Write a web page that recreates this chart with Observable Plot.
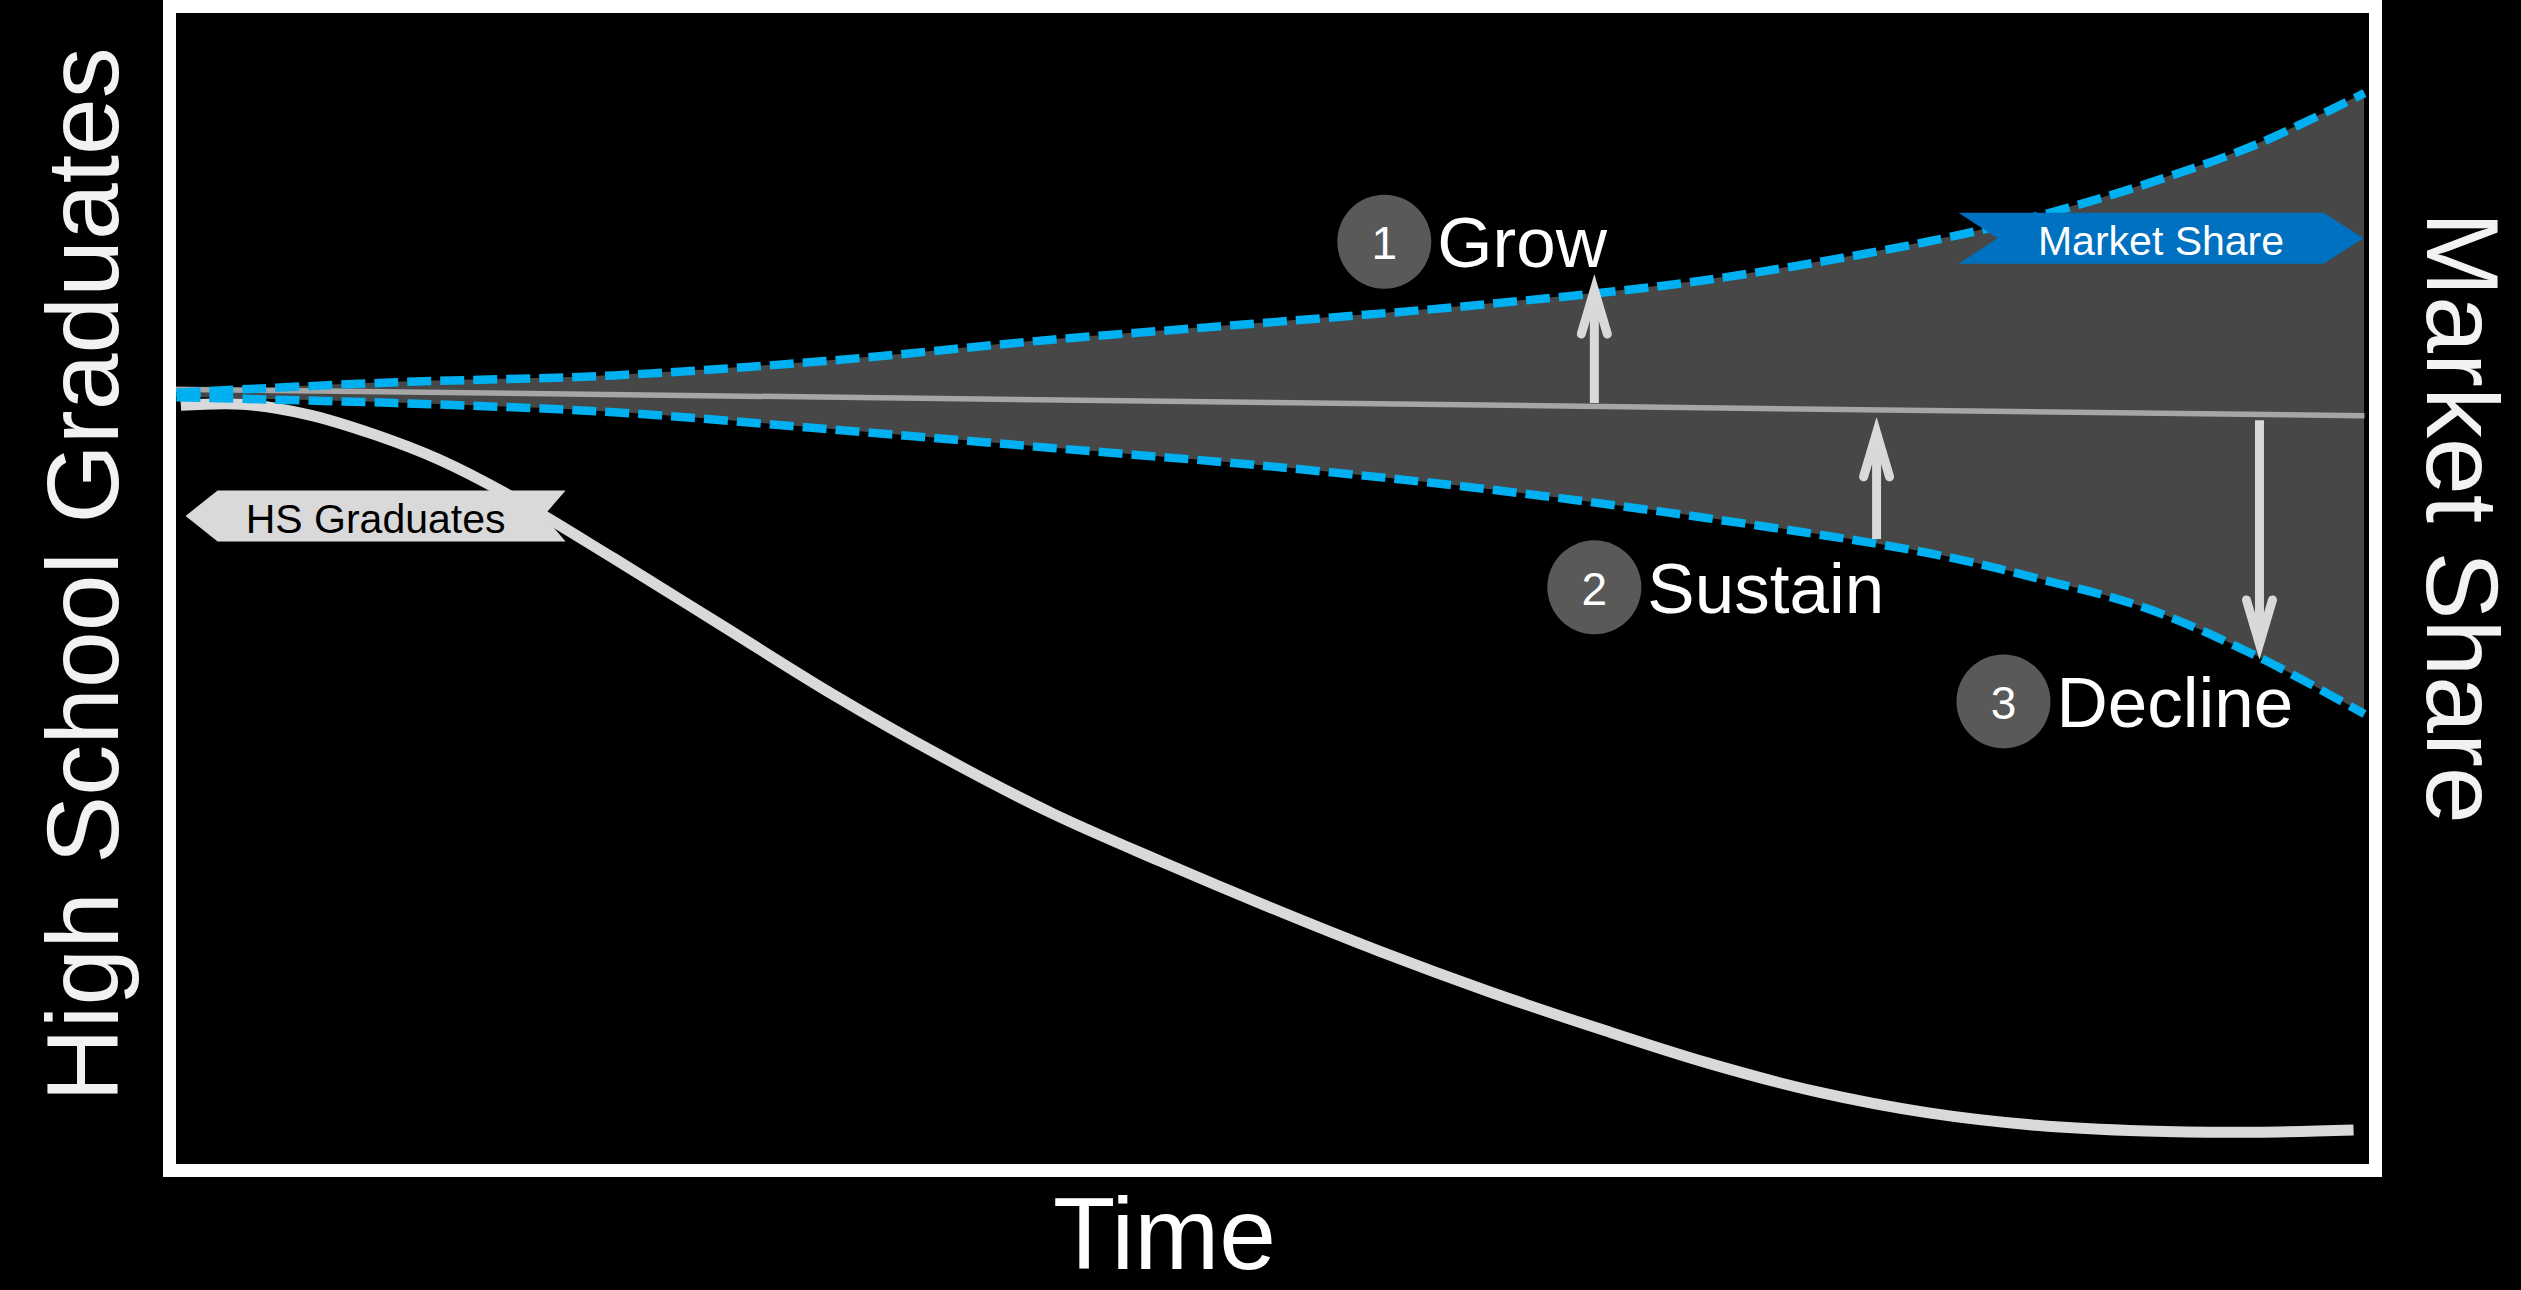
<!DOCTYPE html>
<html>
<head>
<meta charset="utf-8">
<script src="https://cdn.jsdelivr.net/npm/d3@7"></script>
<script src="https://cdn.jsdelivr.net/npm/@observablehq/plot@0.6"></script>
<style>
  html, body { margin: 0; padding: 0; background: #000; overflow: hidden; }
</style>
</head>
<body>
<div id="chart"></div>
<script>
// ---------------- data ----------------
// market-share envelope (time index 0..100, share index 0..100)
const timeGrid   = [0, 10, 20, 30, 40, 50, 60, 70, 80, 85, 90, 95, 100];
const shareUpper = [67.0, 67.9, 68.5, 69.8, 71.6, 73.1, 74.7, 76.8, 80.1, 82.3, 85.1, 88.5, 93.0];
const shareLower = [66.6, 66.1, 65.3, 63.8, 62.2, 60.6, 58.6, 56.1, 53.1, 50.9, 48.3, 44.2, 39.1];

// current market share (straight reference line)
const baselineTime  = [-0.4, 100];
const baselineShare = [67.3, 65.0];

// high school graduates
const gradTime  = [0.2, 3, 6, 9, 12, 15, 20, 25, 30, 35, 40, 45, 50, 55, 60, 65, 70, 75, 80, 85, 90, 95, 99.5];
const gradCount = [65.9, 66.0, 65.1, 63.4, 61.2, 58.3, 52.6, 46.7, 40.8, 35.4, 30.5, 26.3, 22.3, 18.5, 15.0, 11.8, 8.8, 6.3, 4.5, 3.4, 2.9, 2.8, 3.0];

// strategy stages
const stageNumbers = ["1", "2", "3"];
const stageNames   = ["Grow", "Sustain", "Decline"];
const stageTime    = [55.2, 64.8, 83.5];
const stageShare   = [80.1, 50.1, 40.2];

// arrows
const arrowTime = [64.8, 77.7, 95.2];
const arrowFrom = [66.1, 54.3, 64.6];
const arrowTo   = [77.3, 64.9, 43.8];

// banner labels
const bannerTexts = ["HS Graduates", "Market Share"];
const bannerTime  = [9.1, 90.7];
const bannerShare = [56.3, 80.4];

// axis titles
const yTitle  = "High School Graduates";
const y2Title = "Market Share";
const xTitle  = "Time";

// ---------------- build tables ----------------
const envelope = timeGrid.map((t, i) => ({t, hi: shareUpper[i], lo: shareLower[i]}));
const baseline = baselineTime.map((t, i) => ({t, v: baselineShare[i]}));
const grads = gradTime.map((t, i) => ({t, v: gradCount[i]}));
const stages = stageNames.map((name, i) => ({name, num: stageNumbers[i], t: stageTime[i], v: stageShare[i]}));
const banners = bannerTexts.map((text, i) => ({text, t: bannerTime[i], v: bannerShare[i]}));

const W = 2521, H = 1290;
const xOpt = {domain: [0, 100], range: [176, 2364]};
const yOpt = {domain: [0, 100], range: [1164, 12]};
const X = Plot.scale({x: xOpt});
const Y = Plot.scale({y: yOpt});

// arrow geometry (pixel sizes converted through the scales)
const HEAD_INSET = 16, HEAD_LEN = 60, HEAD_HALF = 13;
const shafts = [], heads = [];
arrowTime.forEach((t, i) => {
  const px = X.apply(t), py0 = Y.apply(arrowFrom[i]), py1 = Y.apply(arrowTo[i]);
  const d = py1 < py0 ? -1 : 1;
  const vY = py1 - d * HEAD_INSET, bY = py1 - d * HEAD_LEN;
  shafts.push({id: i, t, v: arrowFrom[i]}, {id: i, t, v: Y.invert(vY)});
  heads.push(
    {id: i, t: X.invert(px - HEAD_HALF), v: Y.invert(bY)},
    {id: i, t, v: Y.invert(vY)},
    {id: i, t: X.invert(px + HEAD_HALF), v: Y.invert(bY)}
  );
});

// banner shapes as custom symbols
function bannerSymbol(pts) {
  return {
    draw(ctx) {
      ctx.moveTo(pts[0][0], pts[0][1]);
      for (let k = 1; k < pts.length; k++) ctx.lineTo(pts[k][0], pts[k][1]);
      ctx.closePath();
    }
  };
}
const leftBanner  = bannerSymbol([[-190, 0], [-158, -25.5], [190, -25.5], [168, 0], [190, 25.5], [-158, 25.5]]);
const rightBanner = bannerSymbol([[-202.5, -25.5], [162.5, -25.5], [202.5, 0], [162.5, 25.5], [-202.5, 25.5], [-163.5, 0]]);

const FONT = "Liberation Sans, Arial, sans-serif";
const CURVE = "catmull-rom";

const chart = Plot.plot({
  width: W,
  height: H,
  marginLeft: 169,
  marginRight: 146,
  marginTop: 6,
  marginBottom: 120,
  x: xOpt,
  y: yOpt,
  axis: null,
  style: {background: "#000", color: "#fff", fontFamily: FONT},
  marks: [
    Plot.areaY(envelope, {x: "t", y1: "lo", y2: "hi", fill: "#474747", curve: CURVE}),
    Plot.line(baseline, {x: "t", y: "v", stroke: "#a6a6a6", strokeWidth: 5.5, strokeLinecap: "butt"}),
    Plot.line(grads, {x: "t", y: "v", stroke: "#d9d9d9", strokeWidth: 11, strokeLinecap: "butt", curve: CURVE}),
    Plot.line(envelope, {x: "t", y: "hi", stroke: "#00b0f0", strokeWidth: 8.5, strokeDasharray: "24,9", strokeLinecap: "butt", curve: CURVE}),
    Plot.line(envelope, {x: "t", y: "lo", stroke: "#00b0f0", strokeWidth: 8.5, strokeDasharray: "24,9", strokeLinecap: "butt", curve: CURVE}),
    // arrows
    Plot.line(shafts, {x: "t", y: "v", z: "id", stroke: "#d9d9d9", strokeWidth: 9, strokeLinecap: "butt"}),
    Plot.line(heads, {x: "t", y: "v", z: "id", stroke: "#d9d9d9", strokeWidth: 9, strokeLinecap: "round", strokeLinejoin: "miter", strokeMiterlimit: 8}),
    // stage markers
    Plot.dot(stages, {x: "t", y: "v", r: 47, fill: "#595959", stroke: "none"}),
    Plot.text(stages, {x: "t", y: "v", text: "num", fontSize: 46, fill: "#fff", dy: 3, fontFamily: FONT}),
    Plot.text(stages, {x: "t", y: "v", text: "name", fontSize: 71, fill: "#fff", textAnchor: "start", dx: 53, dy: 3, fontFamily: FONT}),
    // banners
    Plot.dot(banners.slice(0, 1), {x: "t", y: "v", symbol: leftBanner, fill: "#d9d9d9", stroke: "none"}),
    Plot.dot(banners.slice(1, 2), {x: "t", y: "v", symbol: rightBanner, fill: "#0070c0", stroke: "none"}),
    Plot.text(banners.slice(0, 1), {x: "t", y: "v", text: "text", fontSize: 41, fill: "#000", dy: 3.5, fontFamily: FONT}),
    Plot.text(banners.slice(1, 2), {x: "t", y: "v", text: "text", fontSize: 41, fill: "#fff", dy: 3.5, fontFamily: FONT}),
    // frame
    Plot.frame({stroke: "#fff", strokeWidth: 13}),
    // titles
    Plot.text([yTitle], {frameAnchor: "left", text: d => d, rotate: -90, textAnchor: "middle", lineAnchor: "middle", dx: -84, dy: -14, fontSize: 102, fill: "#f2f2f2", fontFamily: FONT}),
    Plot.text([y2Title], {frameAnchor: "right", text: d => d, rotate: 90, textAnchor: "middle", lineAnchor: "middle", dx: 84, dy: -71, fontSize: 102, fill: "#f2f2f2", fontFamily: FONT}),
    Plot.text([xTitle], {frameAnchor: "bottom", text: d => d, textAnchor: "middle", lineAnchor: "middle", dx: -108, dy: 66, fontSize: 102, fill: "#fff", fontFamily: FONT})
  ]
});
document.getElementById("chart").append(chart);
</script>
</body>
</html>
